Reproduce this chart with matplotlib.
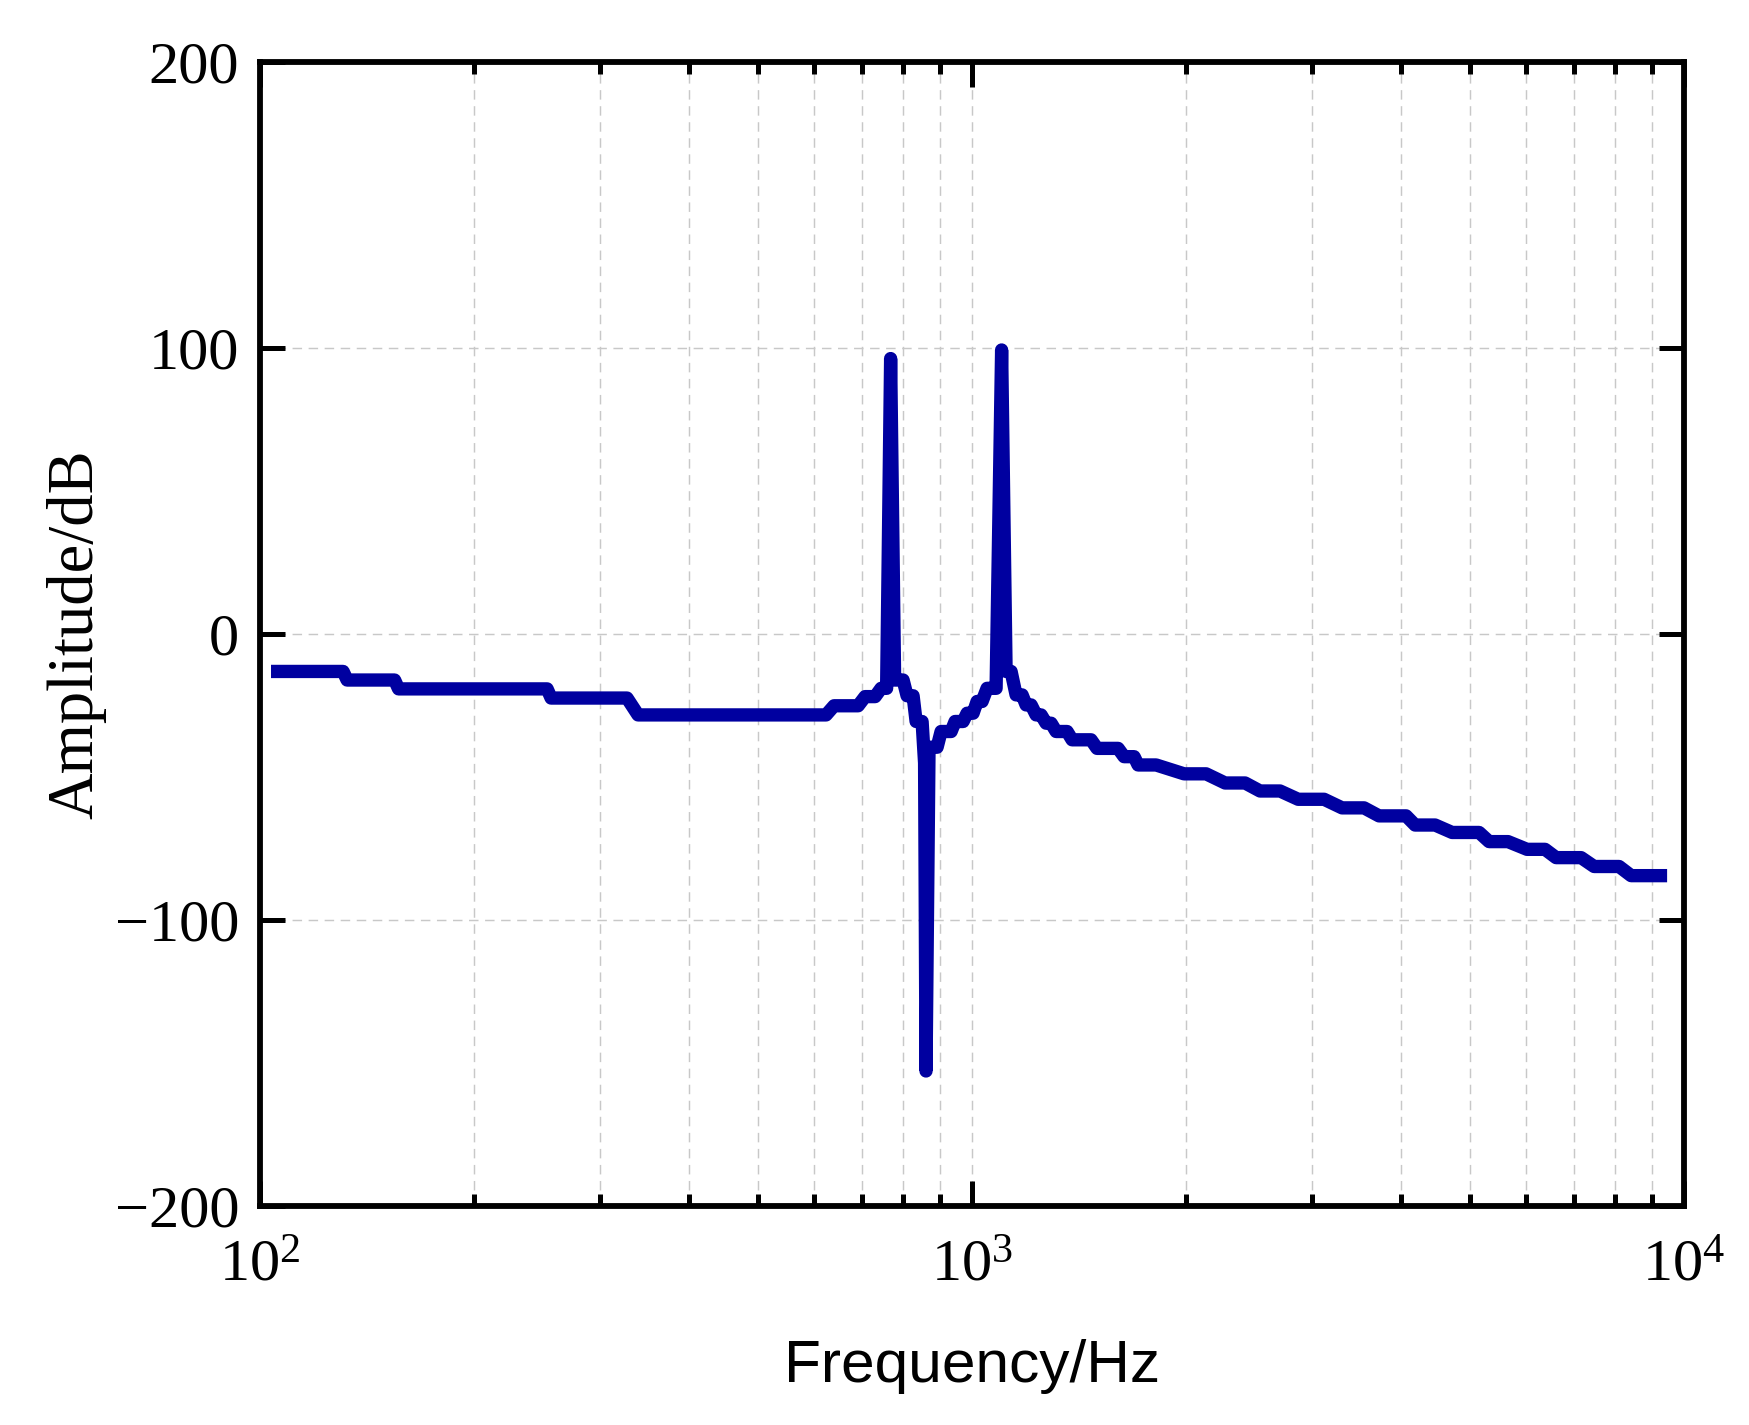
import matplotlib
matplotlib.use("Agg")
import matplotlib.pyplot as plt
from matplotlib.ticker import LogLocator, FixedLocator, NullFormatter

plt.rcParams['font.family'] = ['Liberation Serif', 'DejaVu Serif']
plt.rcParams['mathtext.fontset'] = 'custom'
plt.rcParams['mathtext.rm'] = 'Liberation Serif'
plt.rcParams['mathtext.it'] = 'Liberation Serif:italic'
plt.rcParams['mathtext.bf'] = 'Liberation Serif:bold'

# ---- data ----
freq_hz = [103.6, 130.8, 132.5, 154.5, 156.5, 253.0, 256.3, 327.6, 339.5,
           623.6, 640.0, 691.7, 707.5, 730.8, 745.1, 758.5, 768.4, 778.4,
           800.0, 810.4, 826.3, 834.4, 850.7, 857.6, 861.6, 870.0, 893.0,
           904.6, 934.4, 946.5, 971.3, 984.0, 1003.2, 1016.3, 1032.8, 1049.7,
           1080.7, 1100.2, 1116.2, 1134.4, 1152.9, 1175.5, 1190.8, 1210.3,
           1230.0, 1250.0, 1270.4, 1291.1, 1312.2, 1359.6, 1381.8, 1469.2,
           1498.0, 1603.4, 1634.9, 1688.6, 1710.6, 1813.1, 1984.9, 2131.4,
           2266.5, 2417.7, 2537.7, 2707.0, 2870.5, 3121.5, 3308.4, 3552.3,
           3728.5, 4069.4, 4189.5, 4469.7, 4722.4, 5153.4, 5322.7, 5658.7,
           6017, 6378, 6610, 7167, 7475, 8104, 8425, 9465]
amplitude_db = [-13.0, -13.0, -16.0, -16.0, -19.1, -19.1, -22.3, -22.3, -28.2,
                -28.2, -25.0, -25.0, -21.8, -21.8, -18.9, -18.9, 96.4, -16.0,
                -16.0, -21.5, -21.5, -30.5, -30.5, -45.0, -152.7, -39.5, -39.5,
                -34.0, -34.0, -30.5, -30.5, -27.6, -27.6, -23.5, -23.5, -18.9,
                -18.9, 99.4, -13.0, -13.0, -21.2, -21.2, -24.7, -24.7,
                -28.2, -28.2, -31.1, -31.1, -34.0, -34.0, -36.9, -36.9,
                -39.9, -39.9, -42.8, -42.8, -45.7, -45.7, -48.8, -48.8,
                -52.0, -52.0, -54.8, -54.8, -57.7, -57.7, -60.7, -60.7,
                -63.5, -63.5, -66.7, -66.7, -69.3, -69.3, -72.5, -72.5,
                -75.2, -75.2, -78.1, -78.1, -81.2, -81.2, -84.4, -84.4]
y_ticks = [-200, -100, 0, 100, 200]
x_label = "Frequency/Hz"
y_label = "Amplitude/dB"

fig = plt.figure(figsize=(1749 / 300, 1425 / 300), dpi=300)
ax = fig.add_axes([0.1487, 0.1535, 0.8142, 0.8028])

ax.plot(freq_hz, amplitude_db, color='#0000A0', lw=3.2,
        solid_capstyle='butt', solid_joinstyle='round', zorder=3)

ax.set_xscale('log')
ax.set_xlim(100, 10000)
ax.set_ylim(-200, 200)
ax.yaxis.set_major_locator(FixedLocator(y_ticks))
ax.xaxis.set_major_locator(LogLocator(base=10, numticks=10))
ax.xaxis.set_minor_locator(LogLocator(base=10, subs=range(2, 10), numticks=20))
ax.xaxis.set_minor_formatter(NullFormatter())

ax.set_axisbelow(True)
grid_kw = dict(color='#c8c8c8', linewidth=0.35, linestyle=(0, (6.5, 4.5)))
ax.grid(True, which='major', axis='both', **grid_kw)
ax.grid(True, which='minor', axis='x', **grid_kw)

for s in ax.spines.values():
    s.set_linewidth(1.4)
ax.tick_params(which='both', direction='in', top=True, right=True,
               width=1.2, labelsize=14.5, colors='black')
ax.tick_params(which='major', length=6.0)
ax.tick_params(which='minor', length=2.8)
ax.tick_params(axis='y', pad=5)
ax.tick_params(axis='x', pad=8)

ax.set_xlabel(x_label, family=['Liberation Sans', 'DejaVu Sans'],
              fontsize=14.5, labelpad=11)
ax.set_ylabel(y_label, fontsize=15.5, labelpad=2)

fig.savefig('out.png', dpi=300)
